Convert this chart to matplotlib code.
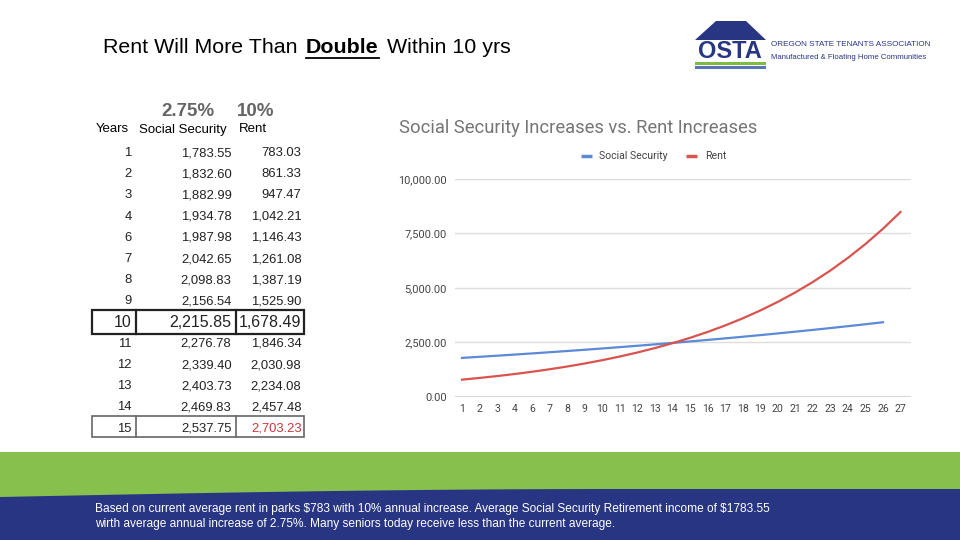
import matplotlib
matplotlib.use('Agg')
import matplotlib.pyplot as plt
from matplotlib.patches import Rectangle, Polygon
import numpy as np

# ---------------- data ----------------
table_years = [1, 2, 3, 4, 6, 7, 8, 9, 10, 11, 12, 13, 14, 15]
table_ss = [1783.55, 1832.60, 1882.99, 1934.78, 1987.98, 2042.65, 2098.83,
            2156.54, 2215.85, 2276.78, 2339.40, 2403.73, 2469.83, 2537.75]
table_rent = [783.03, 861.33, 947.47, 1042.21, 1146.43, 1261.08, 1387.19,
              1525.90, 1678.49, 1846.34, 2030.98, 2234.08, 2457.48, 2703.23]

chart_labels = ['1', '2', '3', '4', '6', '7', '8', '9', '10', '11', '12', '13', '14',
                '15', '16', '17', '18', '19', '20', '21', '22', '23', '24', '25', '26', '27']
chart_ss = [1783.55, 1832.60, 1882.99, 1934.78, 1987.98, 2042.65, 2098.83, 2156.54,
            2215.85, 2276.78, 2339.40, 2403.73, 2469.83, 2537.75, 2607.54, 2679.25,
            2752.93, 2828.63, 2906.42, 2986.35, 3068.47, 3152.85, 3239.56, 3328.65, 3420.19]
chart_rent = [783.03, 861.33, 947.47, 1042.21, 1146.43, 1261.08, 1387.19, 1525.90,
              1678.49, 1846.34, 2030.98, 2234.08, 2457.48, 2703.23, 2973.55, 3270.91,
              3598.00, 3957.80, 4353.58, 4788.94, 5267.83, 5794.61, 6374.07, 7011.48,
              7712.63, 8483.89]
y_ticks = [0, 2500, 5000, 7500, 10000]

# ---------------- style ----------------
NAVY = '#283583'
GREEN = '#88c04e'
BLUE = '#5b8ad6'
RED = '#d9534f'
SANS = ['Liberation Sans', 'DejaVu Sans']
ROBO = ['Roboto', 'DejaVu Sans']

fig = plt.figure(figsize=(9.6, 5.4), dpi=100)
fig.patch.set_facecolor('white')

bg = fig.add_axes([0, 0, 1, 1], zorder=0)
bg.set_xlim(0, 960)
bg.set_ylim(540, 0)
bg.axis('off')

# ---- title ----
TFS = 15.4
bg.text(103, 53, 'Rent Will More Than', fontsize=TFS, family=SANS, va='baseline', ha='left')
bg.text(306, 53, 'Double', fontsize=TFS, family=SANS, fontweight='bold', va='baseline', ha='left')
bg.plot([306, 379], [57.5, 57.5], color='black', lw=1.3)
bg.text(387, 53, 'Within 10 yrs', fontsize=TFS, family=SANS, va='baseline', ha='left')

# ---- logo ----
bg.add_patch(Polygon([(695, 40), (716, 21), (746, 21), (766, 40)], closed=True,
                     facecolor=NAVY, edgecolor='none'))
bg.text(730, 52, 'OSTA', fontsize=17, family=SANS, fontweight='bold', color=NAVY,
        ha='center', va='center')
bg.add_patch(Rectangle((695, 62), 71, 3, facecolor='#7dbb42', edgecolor='none'))
bg.add_patch(Rectangle((695, 65.5), 71, 3, facecolor='#5a73b5', edgecolor='none'))
bg.text(771, 45, 'OREGON STATE TENANTS ASSOCIATION', fontsize=5.85, family=SANS,
        color=NAVY, ha='left', va='center')
bg.text(771, 57.5, 'Manufactured & Floating Home Communities', fontsize=5.6, family=SANS,
        color=NAVY, ha='left', va='center')

# ---- table ----
bg.text(161, 111.5, '2.75%', fontsize=13.5, family=SANS, fontweight='bold', color='#666666',
        ha='left', va='center')
bg.text(237, 111.5, '10%', fontsize=13.5, family=SANS, fontweight='bold', color='#666666',
        ha='left', va='center')
bg.text(96, 132.5, 'Years', fontsize=9.5, family=SANS, ha='left', va='baseline')
bg.text(139, 132.5, 'Social Security', fontsize=9.5, family=SANS, ha='left', va='baseline')
bg.text(239, 132.5, 'Rent', fontsize=9.5, family=SANS, ha='left', va='baseline')

row0 = 151.5
drow = 21.2
for i, (yr, ss, rt) in enumerate(zip(table_years, table_ss, table_rent)):
    y = row0 + drow * i
    big = (yr == 10)
    fs = 11.5 if big else 9.4
    yb = y + (5.7 if big else 4.6)
    rcol = '#d0343a' if yr == 15 else '#222222'
    bg.text(131.5, yb, f'{yr}', fontsize=fs, family=SANS, ha='right', va='baseline', color='#222222')
    bg.text(231.5, yb, f'{ss:,.2f}', fontsize=fs, family=SANS, ha='right', va='baseline', color='#222222')
    bg.text(301.5, yb, f'{rt:,.2f}', fontsize=fs, family=SANS, ha='right', va='baseline', color=rcol)
    if yr in (10, 15):
        top = y - 11.5 if big else y - 11
        h = 24.5 if big else 21
        ec = '#222222' if big else '#666666'
        lw = 1.6 if big else 1.2
        bg.add_patch(Rectangle((92, top), 212, h, facecolor='none', edgecolor=ec, lw=lw))
        bg.plot([135.5, 135.5], [top, top + h], color=ec, lw=lw)
        bg.plot([235.5, 235.5], [top, top + h], color=ec, lw=lw)

# ---- chart ----
bg.text(399, 128, 'Social Security Increases vs. Rent Increases', fontsize=13.2,
        family=ROBO, color='#757575', ha='left', va='center')
bg.plot([581, 592], [156, 156], color=BLUE, lw=2.5, solid_capstyle='butt')
bg.text(599, 156, 'Social Security', fontsize=7.6, family=ROBO, color='#444444',
        ha='left', va='center')
bg.plot([686, 697], [156, 156], color=RED, lw=2.5, solid_capstyle='butt')
bg.text(705, 156, 'Rent', fontsize=7.6, family=ROBO, color='#444444', ha='left', va='center')

ax_l, ax_r = 455, 911
ax_b, ax_t = 396.7, 179
ax = fig.add_axes([ax_l / 960, 1 - ax_b / 540, (ax_r - ax_l) / 960, (ax_b - ax_t) / 540],
                  zorder=2)
ax.patch.set_alpha(0)
x_ss = np.arange(len(chart_ss))
x_rent = np.arange(len(chart_rent))
ax.plot(x_ss, chart_ss, color=BLUE, lw=1.6, zorder=3)
ax.plot(x_rent, chart_rent, color=RED, lw=1.6, zorder=3)
ax.set_xlim(-0.4, 25.6)
ax.set_ylim(0, 10000)
for s in ax.spines.values():
    s.set_visible(False)
for yv in y_ticks[1:]:
    ax.axhline(yv, color='#dddddd', lw=1, zorder=1)
ax.axhline(0, color='#333333', lw=1, zorder=2)
ax.set_yticks(y_ticks)
ax.set_yticklabels([f'{v:,.2f}' for v in y_ticks], family=ROBO, fontsize=7.9, color='#444444')
ax.set_xticks(range(len(chart_labels)))
ax.set_xticklabels(chart_labels, family=ROBO, fontsize=7.6, color='#444444')
ax.tick_params(axis='both', length=0)
ax.tick_params(axis='y', pad=6)
ax.tick_params(axis='x', pad=5)

# ---- footer ----
bg.add_patch(Rectangle((0, 452), 960, 88, facecolor=GREEN, edgecolor='none'))
xs = np.linspace(0, 960, 60)
top = 497 - 8 * np.sin(np.pi / 2 * np.clip(xs / 620, 0, 1))
verts = list(zip(xs, top)) + [(960, 540), (0, 540)]
bg.add_patch(Polygon(verts, closed=True, facecolor=NAVY, edgecolor='none'))
bg.text(95, 509, 'Based on current average rent in parks $783 with 10% annual increase. '
        'Average Social Security Retirement income of $1783.55',
        fontsize=8.6, family=SANS, color='white', ha='left', va='center', parse_math=False)
bg.text(95, 523.5, 'wirth average annual increase of 2.75%. Many seniors today receive less '
        'than the current average.',
        fontsize=8.6, family=SANS, color='white', ha='left', va='center', parse_math=False)

fig.savefig('out.png', dpi=100, facecolor='white')
